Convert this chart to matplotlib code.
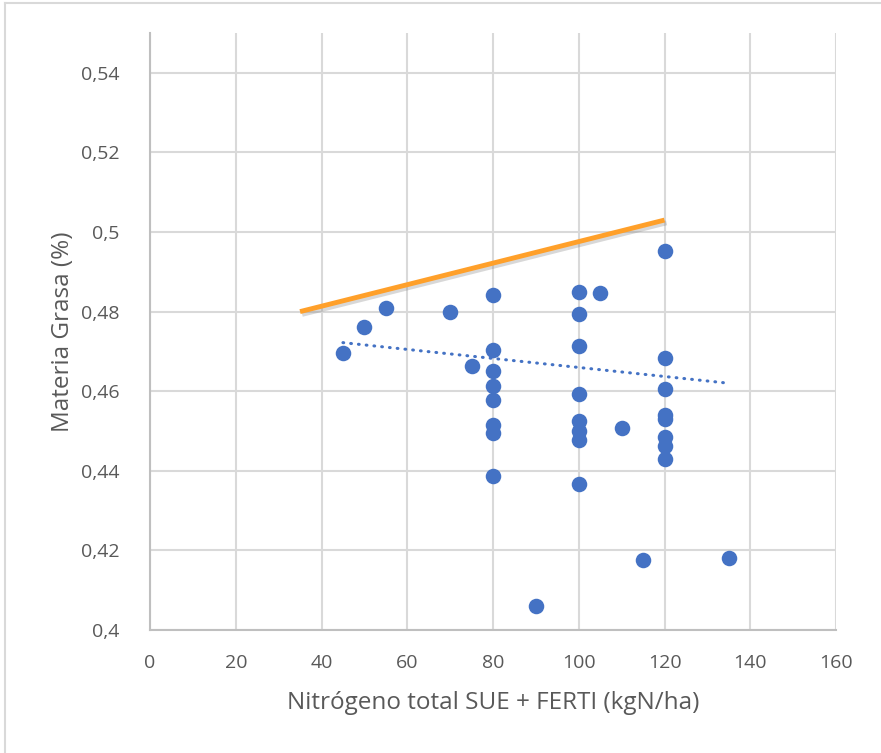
import matplotlib
matplotlib.use('Agg')
import matplotlib.pyplot as plt
import matplotlib.patheffects as pe
from matplotlib.ticker import FuncFormatter, MultipleLocator

plt.rcParams['font.family'] = ['Open Sans', 'DejaVu Sans']

# Datos (N total vs materia grasa)
nitrogeno = [45, 50, 55, 70, 75,
             80, 80, 80, 80, 80, 80, 80, 80,
             90,
             100, 100, 100, 100, 100, 100, 100, 100,
             105, 110, 115,
             120, 120, 120, 120, 120, 120, 120, 120,
             135]
grasa = [0.4697, 0.4761, 0.4809, 0.4798, 0.4663,
         0.4842, 0.4704, 0.4651, 0.4612, 0.4577, 0.4514, 0.4495, 0.4387,
         0.4061,
         0.4848, 0.4795, 0.4714, 0.4593, 0.4524, 0.4499, 0.4477, 0.4366,
         0.4846, 0.4508, 0.4175,
         0.4952, 0.4683, 0.4605, 0.4539, 0.4529, 0.4485, 0.4462, 0.4430,
         0.4182]

# Linea de tendencia
tend_x = [45, 135]
tend_y = [0.4722, 0.4620]

# Linea naranja (referencia)
ref_x = [35, 120]
ref_y = [0.480, 0.503]

azul = '#4472C4'
naranja = '#FFA02A'
gris_txt = '#595959'

fig = plt.figure(figsize=(8.81, 7.53), dpi=100)
ax = fig.add_axes([150 / 881, 1 - 630 / 753, 686 / 881, 597 / 753])

# marco exterior (solo borde izq y sup visibles)
fig.add_artist(plt.Line2D([5 / 881, 5 / 881], [0, 1 - 3 / 753], color='#d9d9d9', lw=1.5))
fig.add_artist(plt.Line2D([5 / 881, 1], [1 - 3 / 753, 1 - 3 / 753], color='#d9d9d9', lw=1.5))

ax.scatter(nitrogeno, grasa, s=125, color=azul, zorder=3, linewidths=0)

ax.plot(tend_x, tend_y, color=azul, lw=2.2, linestyle=(0, (0.25, 2.3)),
        dash_capstyle='round', zorder=4)

ax.plot(ref_x, ref_y, color=naranja, lw=3.5, solid_capstyle='butt', zorder=5,
        path_effects=[pe.SimpleLineShadow(offset=(1.5, -2), shadow_color='#808080', alpha=0.3),
                      pe.Normal()])

ax.set_xlim(0, 160)
ax.set_ylim(0.4, 0.55)
ax.xaxis.set_major_locator(MultipleLocator(20))
ax.set_yticks([0.40, 0.42, 0.44, 0.46, 0.48, 0.50, 0.52, 0.54])
ax.yaxis.set_major_formatter(FuncFormatter(
    lambda v, p: ('%.2f' % v).rstrip('0').replace('.', ',')))

ax.grid(True, color='#d9d9d9', lw=1.5, zorder=0)
ax.set_axisbelow(True)
for s in ['top', 'right']:
    ax.spines[s].set_visible(False)
for s in ['left', 'bottom']:
    ax.spines[s].set_color('#bfbfbf')
    ax.spines[s].set_linewidth(1.5)

ax.tick_params(length=0, labelsize=14, labelcolor=gris_txt)
ax.tick_params(axis='y', pad=22)
ax.tick_params(axis='x', pad=17)

ax.set_xlabel('Nitrógeno total SUE + FERTI (kgN/ha)', fontsize=17.5, color=gris_txt, labelpad=14)
ax.set_ylabel('Materia Grasa (%)', fontsize=17.5, color=gris_txt, labelpad=4)

fig.savefig('out.png', dpi=100)
